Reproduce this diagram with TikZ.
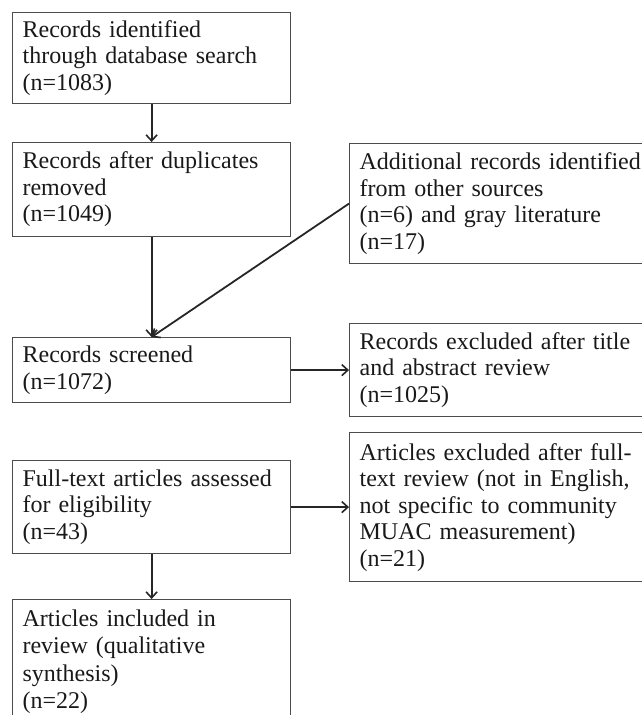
\documentclass[tikz,border=0pt]{standalone}
\usepackage{fontspec}
\setmainfont{Liberation Serif}
\usetikzlibrary{arrows.meta,positioning}

\begin{document}
\begin{tikzpicture}[
  x=1pt, y=1pt,
  font=\fontsize{24}{26.5}\selectfont, >={Straight Barb[length=6pt,width=11pt,line width=1.6pt]},
  box/.style={draw=black!70, line width=1.2pt, anchor=north west, align=left, text=black!90,
              inner xsep=10pt, inner ysep=6pt, text width=258pt, minimum width=278pt},
  sidebox/.style={box, text width=291pt, minimum width=311pt},
  arr/.style={->, line width=1.8pt, draw=black!85}]
  \useasboundingbox (0,0) rectangle (642,-715);
  \clip (0,0) rectangle (642,-715);
  \node[box, minimum height=91pt]     (found)  at (12,-12)   {Records identified\\through database search\\(n=1083)};
  \node[box, minimum height=94pt]     (dedup)  at (12,-142)  {Records after duplicates\\removed\\(n=1049)};
  \node[box, minimum height=65pt]     (screen) at (12,-337)  {Records screened\\(n=1072)};
  \node[box, minimum height=93pt]     (full)   at (12,-460)  {Full-text articles assessed\\for eligibility\\(n=43)};
  \node[box, inner ysep=10pt, font=\fontsize{24}{27.5}\selectfont] (incl) at (12,-599) {Articles included in\\review (qualitative\\synthesis)\\(n=22)};
  \node[sidebox, minimum height=120pt] (other)  at (349,-143) {Additional records identified\\from other sources\\(n=6) and gray literature\\(n=17)};
  \node[sidebox, minimum height=93pt]  (exta)   at (349,-323) {Records excluded after title\\and abstract review\\(n=1025)};
  \node[sidebox, minimum height=149pt] (extb)   at (349,-432) {Articles excluded after full-\\text review (not in English,\\not specific to community\\MUAC measurement)\\(n=21)\\[12pt]};
  \draw[arr] (found)--(dedup);
  \draw[arr] (dedup)--(screen);
  \draw[arr] (other.west)--(screen.north);
  \draw[arr] (screen)--(exta);
  \draw[arr] (full)--(extb);
  \draw[arr] (full)--(incl);
\end{tikzpicture}
\end{document}
